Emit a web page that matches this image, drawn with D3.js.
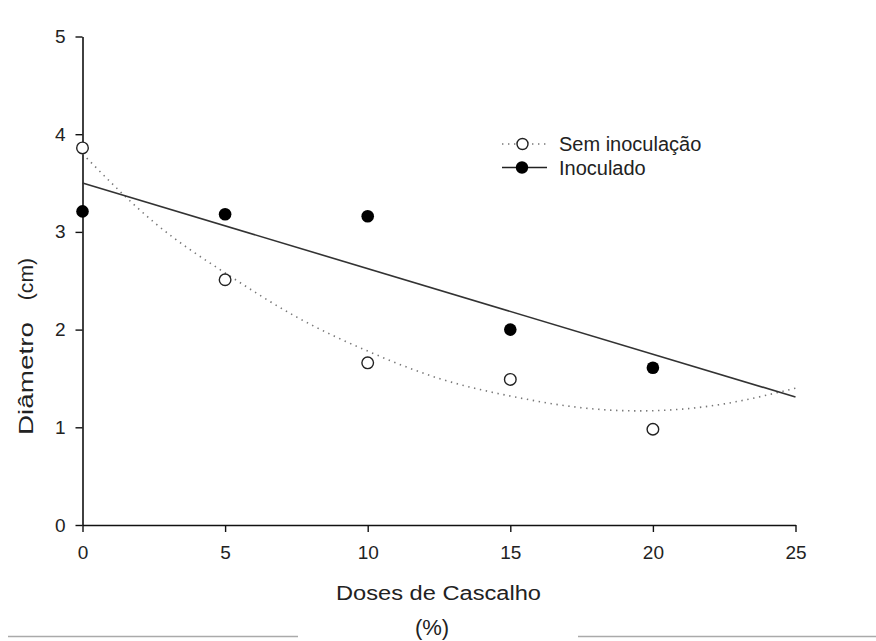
<!DOCTYPE html>
<html><head><meta charset="utf-8">
<script src="https://cdn.jsdelivr.net/npm/d3@7"></script>
<style>body{margin:0;background:#fff}svg{display:block}text{font-family:"Liberation Sans",Arial,sans-serif}</style>
</head><body><svg id="c" width="876" height="641"></svg>
<script>
const doses = [0, 5, 10, 15, 20];
const semInoculacao = [3.86, 2.51, 1.66, 1.49, 0.98];
const inoculado = [3.21, 3.18, 3.16, 2.0, 1.61];
// fitted curves
const fitSemX = [0, 2.5, 5, 7.5, 10, 12.5, 15, 17.5, 20, 22.5, 25];
const fitSemY = [3.80, 3.10, 2.58, 2.13, 1.78, 1.50, 1.32, 1.20, 1.17, 1.24, 1.40];
const fitInocX = [0, 25];
const fitInocY = [3.50, 1.31];
const xTicks = [0, 5, 10, 15, 20, 25];
const yTicks = [0, 1, 2, 3, 4, 5];
const legendLabels = ["Sem inoculação", "Inoculado"];

const svg = d3.select("#c");
const x = d3.scaleLinear().domain([0, 25]).range([82.5, 795.5]);
const y = d3.scaleLinear().domain([0, 5]).range([525, 36.5]);

// axes
const xAx = svg.append("g").attr("transform", "translate(0,525)")
  .call(d3.axisBottom(x).tickValues(xTicks).tickFormat(d3.format("d")).tickSize(7).tickPadding(14).tickSizeOuter(0));
const yAx = svg.append("g").attr("transform", "translate(82.5,0)")
  .call(d3.axisLeft(y).tickValues(yTicks).tickFormat(d3.format("d")).tickSize(7).tickPadding(10).tickSizeOuter(0));
[xAx, yAx].forEach(g => {
  g.attr("font-size", null).attr("font-family", null);
  g.select(".domain").attr("stroke", "#111").attr("stroke-width", 1.6);
  g.selectAll(".tick line").attr("stroke", "#111").attr("stroke-width", 1.4);
  g.selectAll(".tick text").style("font-size", "19px").attr("fill", "#222")
    .style("font-family", "'Liberation Sans', Arial, sans-serif");
});

// fitted lines
const semFit = fitSemX.map((d, i) => [d, fitSemY[i]]);
const inFit = fitInocX.map((d, i) => [d, fitInocY[i]]);
const line = d3.line().x(d => x(d[0])).y(d => y(d[1])).curve(d3.curveNatural);
svg.append("path").attr("d", line(semFit)).attr("fill", "none")
  .attr("stroke", "#777").attr("stroke-width", 1.6).attr("stroke-dasharray", "1.4,4.6");
svg.append("path").attr("d", d3.line().x(d => x(d[0])).y(d => y(d[1]))(inFit)).attr("fill", "none")
  .attr("stroke", "#333").attr("stroke-width", 1.6);

// points
svg.append("g").selectAll("circle").data(doses).join("circle")
  .attr("cx", d => x(d)).attr("cy", (d, i) => y(inoculado[i])).attr("r", 6.3)
  .attr("fill", "#000");
svg.append("g").selectAll("circle").data(doses).join("circle")
  .attr("cx", d => x(d)).attr("cy", (d, i) => y(semInoculacao[i])).attr("r", 5.8)
  .attr("fill", "#fff").attr("stroke", "#222").attr("stroke-width", 1.4);

// legend
const lg = svg.append("g");
lg.append("line").attr("x1", 502).attr("x2", 546).attr("y1", 144).attr("y2", 144)
  .attr("stroke", "#777").attr("stroke-width", 1.6).attr("stroke-dasharray", "1.4,4.6");
lg.append("circle").attr("cx", 522.5).attr("cy", 144).attr("r", 5.5)
  .attr("fill", "#fff").attr("stroke", "#222").attr("stroke-width", 1.4);
lg.append("line").attr("x1", 502).attr("x2", 547).attr("y1", 167.5).attr("y2", 167.5)
  .attr("stroke", "#222").attr("stroke-width", 1.6);
lg.append("circle").attr("cx", 522).attr("cy", 167.5).attr("r", 6.2).attr("fill", "#000");
lg.selectAll("text").data(legendLabels).join("text")
  .attr("x", 559).attr("y", (d, i) => 150.5 + i * 24).style("font-size", "20px").attr("fill", "#222")
  .text(d => d);

// axis titles
svg.append("text").attr("x", 336).attr("y", 600)
  .style("font-size", "20px").attr("fill", "#222")
  .attr("textLength", 205).attr("lengthAdjust", "spacingAndGlyphs").text("Doses de Cascalho");
svg.append("text").attr("x", 432).attr("y", 635).attr("text-anchor", "middle")
  .style("font-size", "22px").attr("fill", "#222").text("(%)");
const yt = svg.append("text").attr("transform", "translate(33,435) rotate(-90)")
  .style("font-size", "21px").attr("fill", "#222");
yt.append("tspan").attr("x", 0).attr("textLength", 113).attr("lengthAdjust", "spacingAndGlyphs").text("Diâmetro");
yt.append("tspan").attr("x", 129).attr("textLength", 48).attr("lengthAdjust", "spacingAndGlyphs").text(" (cm)");

// bottom rules
svg.append("line").attr("x1", 8).attr("x2", 298).attr("y1", 636.5).attr("y2", 636.5)
  .attr("stroke", "#aaa").attr("stroke-width", 1.5);
svg.append("line").attr("x1", 578).attr("x2", 876).attr("y1", 636.5).attr("y2", 636.5)
  .attr("stroke", "#aaa").attr("stroke-width", 1.5);
</script></body></html>
